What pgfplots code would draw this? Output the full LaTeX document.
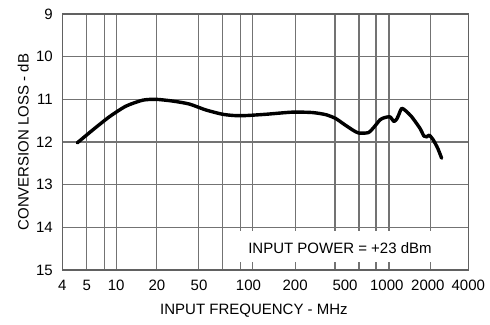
\documentclass[border=0pt]{standalone}
\usepackage{pgfplots}
\pgfplotsset{compat=1.18}
\usepackage{fontspec}
\setmainfont{Liberation Sans}
\newcommand{\chartfont}{\fontsize{15}{18}\selectfont}
\begin{document}
\begin{tikzpicture}
\begin{axis}[
  scale only axis, width=406pt, height=256pt,
  xmode=log, xmin=4, xmax=4000,
  ymin=9, ymax=15, y dir=reverse,
  ytick={9,10,11,12,13,14,15},
  xtick={4,6.06,10,20,41,95,210,491,1000,2010,4000},
  xticklabels={4,5,10,20,50,100,200,500,1000,2000,4000},
  minor xtick={6.06,8.17,10,19.9,40.9,60.9,83.2,101,210,414,623,832,1038,2110},
  xmajorgrids=false, xminorgrids=true, ymajorgrids=true,
  major tick length=0pt, minor tick length=0pt,
  grid style={draw=black!55, line width=1.1pt},
  axis line style={draw=black!62, line width=1.5pt},
  tick label style={font=\chartfont, /pgf/number format/assume math mode=true},
  xticklabel style={anchor=center, yshift=-15pt},
  yticklabel style={anchor=east, xshift=-6pt},
  label style={font=\chartfont},
  xlabel={INPUT FREQUENCY - MHz},
  ylabel={CONVERSION LOSS - dB},
  xlabel style={at={(axis description cs:0.472,-0.160)}, anchor=center},
  ylabel style={at={(axis description cs:-0.096,0.5)}, anchor=center},
]
\addplot[black, line width=3.4pt, line cap=round, line join=round, smooth, tension=0.4] coordinates {
(5.16,12.02) (6.7,11.72) (8.9,11.41) (11.8,11.16) (15.7,11.02) (19.7,11.0)
(26.1,11.04) (34.7,11.11) (46.1,11.25) (61.2,11.35) (75,11.38) (91,11.38)
(128,11.35) (201,11.30) (283,11.31) (355,11.36) (420,11.45) (471,11.56)
(560,11.72) (620,11.79) (730,11.78) (800,11.66) (891,11.48) (960,11.43)
(1055,11.41) (1130,11.52) (1190,11.45) (1240,11.32) (1288,11.21) (1380,11.27)
(1528,11.41) (1758,11.68) (1880,11.86) (1972,11.88) (2060,11.84) (2203,11.95)
(2380,12.15) (2541,12.38)
};
\fill[white] (axis description cs:0.418,0.031) rectangle (axis description cs:0.994,0.152);
\node[font=\chartfont] at (axis description cs:0.684,0.086) {INPUT POWER = +23 dBm};
\end{axis}
\pgfresetboundingbox
\path[use as bounding box] ([shift={(-62.3pt,-54pt)}]current axis.south west) rectangle ([shift={(21.7pt,14pt)}]current axis.north east);
\end{tikzpicture}
\end{document}
